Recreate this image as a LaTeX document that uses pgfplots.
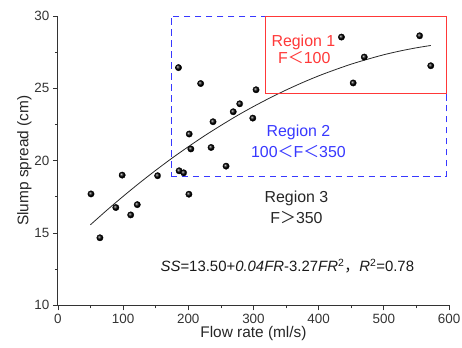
\documentclass[border=0pt]{standalone}
\usepackage{fontspec}
\setmainfont{Liberation Sans}
\newfontfamily\cjk{Noto Sans CJK SC}
\usepackage{pgfplots}
\pgfplotsset{compat=1.18}
\definecolor{regred}{HTML}{FF3838}
\definecolor{regblue}{HTML}{3838FF}
\definecolor{axgray}{HTML}{333333}
\begin{document}
\begin{tikzpicture}
\begin{axis}[
  scale only axis,
  width=392bp, height=290bp,
  xmin=0, xmax=600, ymin=10, ymax=30,
  axis x line*=bottom, axis y line*=left,
  axis line style={axgray, line width=0.8pt},
  tick align=outside,
  major tick length=5bp, minor tick length=3bp,
  tick style={axgray, line width=0.7pt},
  xtick={0,100,...,600}, ytick={10,15,...,30},
  minor x tick num=1, minor y tick num=1,
  /pgf/number format/assume math mode=true,
  ticklabel style={font=\fontsize{13.5}{15}\selectfont, text=axgray},
  xlabel={Flow rate (ml/s)}, ylabel={Slump spread (cm)},
  label style={font=\fontsize{15.5}{18}\selectfont, text=black!85},
  xlabel style={yshift=4bp},
  ylabel style={yshift=-4bp},
  clip=false,
]
% fitted curve
\addplot[black!85, line width=0.8pt, smooth] coordinates {
(50,15.57) (75,16.57) (100,17.53) (125,18.45) (150,19.33) (175,20.17)
(200,20.96) (225,21.72) (250,22.43) (275,23.11) (300,23.74) (325,24.33)
(350,24.88) (375,25.39) (400,25.86) (425,26.28) (450,26.67) (475,27.01)
(500,27.32) (525,27.58) (550,27.80) (572,27.96)};
% data points
\addplot[only marks, mark=ball, ball color=black, mark size=3.2pt] coordinates {
(50.8,17.70) (64.5,14.67) (88.9,16.76) (98.6,19.0) (111.7,16.25) (121.8,16.96)
(153,18.96) (185,26.43) (186,19.30) (193,19.16) (201,17.68) (201.5,21.84)
(204,20.81) (219,25.33) (235,20.91) (238,22.69) (258,19.62) (269,23.38)
(279,23.93) (299,22.94) (304,24.9) (435,28.54) (453,25.37) (470,27.16)
(555,28.63) (572,26.56)};
% region 2 (blue dashed)
\addplot[regblue, line width=0.9pt, dash pattern=on 6.5bp off 4.5bp] coordinates {
(173.5,18.9) (595.6,18.9) (595.6,30) (173.5,30) (173.5,18.9)};
% region 1 (red)
\addplot[regred, line width=0.9pt] coordinates {
(319,24.62) (595.6,24.62) (595.6,30) (319,30) (319,24.62)};
\node[text=regred, font=\fontsize{16}{18}\selectfont] at (axis cs:376.6,28.17) {Region 1};
\node[text=regred, font=\fontsize{16}{18}\selectfont] at (axis cs:378,27.16) {F{\cjk ＜}100};
\node[text=regblue, font=\fontsize{16}{18}\selectfont] at (axis cs:369,21.94) {Region 2};
\node[text=regblue, font=\fontsize{16}{18}\selectfont] at (axis cs:369,20.63) {100{\cjk ＜}F{\cjk ＜}350};
\node[text=black!85, font=\fontsize{16}{18}\selectfont] at (axis cs:366,17.40) {Region 3};
\node[text=black!85, font=\fontsize{16}{18}\selectfont] at (axis cs:366,16.10) {F{\cjk ＞}350};
\node[text=black!90, font=\fontsize{15}{18}\selectfont] at (axis cs:352,12.73)
  {\textit{SS}=13.50+\textit{0.04FR}-3.27\textit{FR}\textsuperscript{2}{\cjk ，}\textit{R}\textsuperscript{2}=0.78};
\end{axis}
\pgfresetboundingbox
\path ([xshift=-58bp,yshift=-42bp]current axis.south west) rectangle ([xshift=13bp,yshift=16bp]current axis.north east);
\end{tikzpicture}
\end{document}
